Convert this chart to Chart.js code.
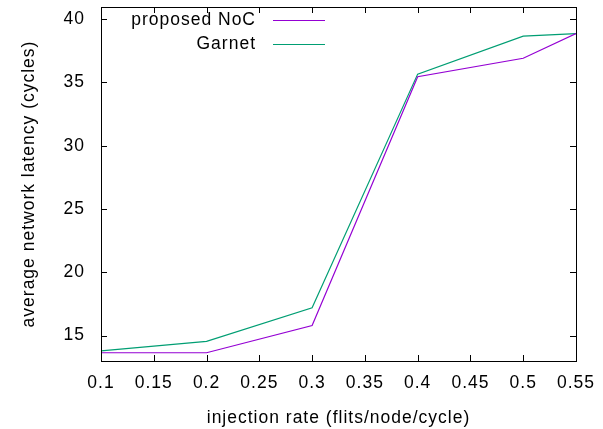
<!DOCTYPE html>
<html>
<head>
<meta charset="utf-8">
<script src="https://cdn.jsdelivr.net/npm/chart.js@4/dist/chart.umd.min.js"></script>
<style>
  html, body { margin: 0; padding: 0; background: #fff; }
  #wrap { width: 603px; height: 429px; }
</style>
</head>
<body>
<div id="wrap"><canvas id="lineChart"></canvas></div>
<script>
var injectionRates = [0.1, 0.2, 0.3, 0.4, 0.5, 0.55];
var proposedNoC = [13.65, 13.65, 15.8, 35.45, 36.9, 38.85];
var garnet = [13.8, 14.55, 17.2, 35.65, 38.65, 38.85];
var xTicks = [0.1, 0.15, 0.2, 0.25, 0.3, 0.35, 0.4, 0.45, 0.5, 0.55];
var yTicks = [15, 20, 25, 30, 35, 40];
var seriesLabels = ['proposed NoC', 'Garnet'];
var seriesColors = ['#9400d3', '#009e73'];

var fontFamily = '"Liberation Sans", Arial, sans-serif';
var fontSize = 17.5;

// gnuplot text is a bit wider than plain Arial
var spacingPlugin = {
    id: 'spacing',
    beforeLayout: function (chart) { chart.ctx.letterSpacing = '1px'; },
    beforeDraw: function (chart) { chart.ctx.letterSpacing = '1px'; }
};

// gnuplot style: frame with inward ticks on all four sides
var framePlugin = {
    id: 'frame',
    afterDatasetsDraw: function (chart) {
        var ctx = chart.ctx, a = chart.chartArea;
        var xs = chart.scales.x, ys = chart.scales.y;
        var len = 6;
        ctx.save();
        ctx.strokeStyle = '#000';
        ctx.lineWidth = 1;
        ctx.beginPath();
        xs.ticks.forEach(function (t) {
            var px = Math.round(xs.getPixelForValue(t.value)) + 0.5;
            ctx.moveTo(px, a.bottom); ctx.lineTo(px, a.bottom - len);
            ctx.moveTo(px, a.top); ctx.lineTo(px, a.top + len);
        });
        ys.ticks.forEach(function (t) {
            var py = Math.round(ys.getPixelForValue(t.value)) + 0.5;
            ctx.moveTo(a.left, py); ctx.lineTo(a.left + len, py);
            ctx.moveTo(a.right, py); ctx.lineTo(a.right - len, py);
        });
        ctx.stroke();
        ctx.strokeRect(Math.round(a.left) + 0.5, Math.round(a.top) + 0.5,
            Math.round(a.right - a.left), Math.round(a.bottom - a.top));
        ctx.restore();
    }
};

// key in the top left corner, text right aligned with the sample line after it
var keyPlugin = {
    id: 'key',
    afterDraw: function (chart) {
        var ctx = chart.ctx;
        ctx.save();
        ctx.font = fontSize + 'px ' + fontFamily;
        ctx.textAlign = 'right';
        ctx.textBaseline = 'middle';
        chart.data.datasets.forEach(function (ds, i) {
            var y = 20 + i * 24;
            ctx.fillStyle = '#000';
            ctx.fillText(ds.label, 256, y);
            ctx.strokeStyle = ds.borderColor;
            ctx.lineWidth = 1.2;
            ctx.beginPath();
            ctx.moveTo(273, y + 0.5);
            ctx.lineTo(325, y + 0.5);
            ctx.stroke();
        });
        ctx.restore();
    }
};

var ctx = document.getElementById('lineChart').getContext('2d');
var lineChart = new Chart(ctx, {
    type: 'line',
    data: {
        datasets: [proposedNoC, garnet].map(function (vals, i) {
            return {
                label: seriesLabels[i],
                data: vals.map(function (v, j) { return { x: injectionRates[j], y: v }; }),
                borderColor: seriesColors[i],
                backgroundColor: seriesColors[i],
                borderWidth: 1.2,
                pointRadius: 0,
                fill: false,
                tension: 0
            };
        })
    },
    options: {
        responsive: true,
        maintainAspectRatio: false,
        animation: false,
        layout: { padding: { top: 7, right: 27, left: 0, bottom: 0 } },
        plugins: {
            legend: { display: false },
            tooltip: { enabled: false }
        },
        scales: {
            x: {
                type: 'linear',
                min: 0.1,
                max: 0.55,
                afterBuildTicks: function (scale) {
                    scale.ticks = xTicks.map(function (v) { return { value: v }; });
                },
                afterFit: function (scale) {
                    scale.height = 68;
                    scale.paddingLeft = 0;
                    scale.paddingRight = 0;
                },
                grid: { display: false, drawTicks: false },
                border: { display: false },
                ticks: {
                    padding: 12,
                    color: '#000',
                    font: { family: fontFamily, size: fontSize },
                    maxRotation: 0,
                    callback: function (v) { return String(Math.round(v * 100) / 100); }
                },
                title: {
                    display: true,
                    text: 'injection rate (flits/node/cycle)',
                    color: '#000',
                    font: { family: fontFamily, size: fontSize },
                    padding: { top: 6, bottom: 0 }
                }
            },
            y: {
                min: 13,
                max: 40.95,
                afterBuildTicks: function (scale) {
                    scale.ticks = yTicks.map(function (v) { return { value: v }; });
                },
                afterFit: function (scale) {
                    scale.width = 101;
                    scale.paddingTop = 0;
                    scale.paddingBottom = 0;
                },
                grid: { display: false, drawTicks: false },
                border: { display: false },
                ticks: {
                    padding: 16,
                    color: '#000',
                    font: { family: fontFamily, size: fontSize }
                },
                title: {
                    display: true,
                    text: 'average network latency (cycles)',
                    color: '#000',
                    font: { family: fontFamily, size: fontSize },
                    padding: { top: 19, bottom: 0 }
                }
            }
        }
    },
    plugins: [spacingPlugin, framePlugin, keyPlugin]
});
</script>
</body>
</html>
